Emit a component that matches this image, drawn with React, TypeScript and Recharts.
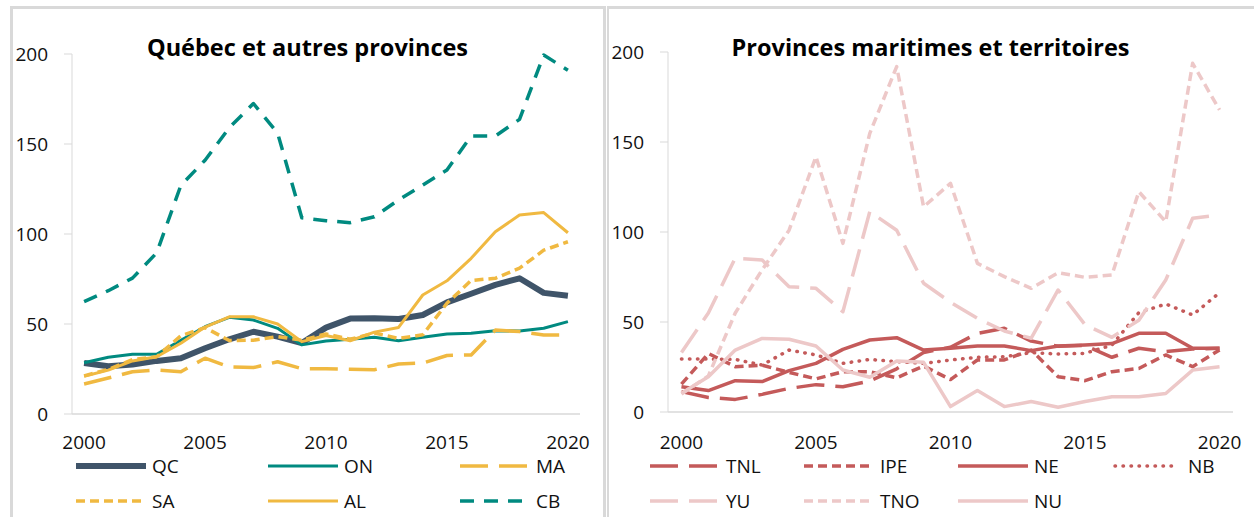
import React from 'react';
import { LineChart, Line, XAxis, YAxis } from 'recharts';

// ---------- DATA ----------
const years = [2000, 2001, 2002, 2003, 2004, 2005, 2006, 2007, 2008, 2009, 2010, 2011, 2012, 2013, 2014, 2015, 2016, 2017, 2018, 2019, 2020];
const xTicks = [2000, 2005, 2010, 2015, 2020];
const yTicks = [0, 50, 100, 150, 200];

// Québec et autres provinces
const QC = [28.3, 26.5, 27.5, 29.5, 31, 36.5, 41.5, 45.7, 43, 39.4, 48, 53, 53.2, 52.8, 55, 62, 66.8, 71.7, 75.4, 67.3, 65.7];
const ON = [28.5, 31.5, 33.2, 33.2, 41, 48.5, 53.7, 52.2, 47.6, 38.4, 40.5, 41.5, 42.6, 40.7, 42.6, 44.5, 44.8, 46.3, 46.1, 47.6, 51.3];
const MA = [16.7, 20, 23.5, 24.4, 23.5, 31, 26.2, 25.8, 29, 25.2, 25.2, 24.8, 24.6, 27.8, 28.3, 32.5, 32.8, 46.6, 45.8, 43.9, 43.9];
const SA = [21.2, 24.8, 30.2, 31.8, 43.5, 48, 40.8, 41, 43, 41, 44.5, 41.5, 45, 42, 44, 61.5, 74.2, 75.4, 81, 91, 95.7];
const AL = [21, 24.4, 29.5, 31.8, 39.3, 48.3, 54, 54, 50, 40.2, 43.6, 40.7, 45.5, 48.1, 66.1, 74, 86.5, 101.2, 110.6, 111.9, 100.7];
const CB = [62.4, 68.5, 75.5, 89.5, 127, 141, 159, 172.5, 156, 109, 107.4, 106.3, 109.6, 118.9, 127.2, 135.6, 154.4, 154.4, 163.7, 199.4, 191];

// Provinces maritimes et territoires
const TNL = [11.3, 8.1, 7, 9.8, 13.1, 15.2, 14, 17.2, 24, 33, 36, 43.7, 46.5, 39.4, 36.5, 37, 30.4, 35.4, 33.5, 35, 35.4];
const IPE = [15.5, 32.5, 25.2, 26, 22, 18.4, 22.4, 22.4, 19, 25.5, 18, 28.9, 28.9, 34.4, 19.6, 17.4, 22.4, 24.2, 31.7, 25.2, 34.5];
const NE = [14, 11.9, 17.4, 16.9, 23, 27, 34.8, 40, 41.3, 34.4, 35.4, 36.7, 36.7, 34.1, 36.7, 37.2, 38, 43.7, 43.7, 35.4, 35.4];
const NB = [29.4, 29.4, 29.2, 26.1, 34.4, 31.7, 27, 29.2, 28, 27, 28.9, 30.4, 30.7, 33, 32.2, 32.6, 37.2, 55.2, 60, 53.9, 66.3];
const YU = [33, 55, 85.5, 84.4, 69.6, 68.7, 55.7, 111.3, 101, 71.5, 61, 52, 45, 41, 67.8, 48.5, 41.5, 51, 73.3, 107.6, 109.4];
const TNO = [10, 20, 55, 79, 101, 141.8, 93.7, 154.8, 191.9, 114, 127, 82.6, 75.2, 68.7, 77.4, 74.8, 76.1, 122.4, 105.7, 193.7, 167.8];
const NU = [10.4, 19.6, 34.4, 40.9, 40.4, 36.7, 23.3, 19.3, 28.3, 27.6, 3, 11.9, 3, 5.8, 2.6, 5.8, 8.5, 8.5, 10.3, 23.3, 25.2];

const leftTitle = 'Québec et autres provinces';
const rightTitle = 'Provinces maritimes et territoires';

// ---------- STYLES ----------
const FONT = '"Open Sans", "Noto Sans", sans-serif';
const TEAL = '#008A80';
const SLATE = '#3F5469';
const GOLD = '#F0B941';
const RED = '#C45A5A';
const PINK = '#EDC8C8';
const GRID = '#D9D9D9';

const LONG = '28 11';
const DASH = '14 10';
const SHORT = '9 5';
const DOT = '0.5 7.5';

type S = { key: string; values: number[]; color: string; width: number; dash?: string; round?: boolean };

const leftSeries: S[] = [
  { key: 'QC', values: QC, color: SLATE, width: 6 },
  { key: 'ON', values: ON, color: TEAL, width: 3 },
  { key: 'MA', values: MA, color: GOLD, width: 3.5, dash: LONG },
  { key: 'SA', values: SA, color: GOLD, width: 3.5, dash: SHORT },
  { key: 'AL', values: AL, color: GOLD, width: 3 },
  { key: 'CB', values: CB, color: TEAL, width: 3.5, dash: DASH },
];

const rightSeries: S[] = [
  { key: 'TNL', values: TNL, color: RED, width: 3.5, dash: LONG },
  { key: 'IPE', values: IPE, color: RED, width: 3.5, dash: SHORT },
  { key: 'NE', values: NE, color: RED, width: 3.5 },
  { key: 'NB', values: NB, color: RED, width: 3.5, dash: DOT, round: true },
  { key: 'YU', values: YU, color: PINK, width: 3.5, dash: LONG },
  { key: 'TNO', values: TNO, color: PINK, width: 3.5, dash: SHORT },
  { key: 'NU', values: NU, color: PINK, width: 3.5 },
];

const buildData = (series: S[]) =>
  years.map((year, i) => {
    const row: Record<string, number> = { year };
    series.forEach((s) => (row[s.key] = s.values[i]));
    return row;
  });

const tickStyle = { fill: '#111', fontSize: 19, fontFamily: FONT };

function Panel(props: {
  series: S[];
  left: number;
  width: number;
  margin: { top: number; right: number; left: number; bottom: number };
  yWidth: number;
  xMargin: number;
}) {
  const { series, left, width, margin, yWidth, xMargin } = props;
  return (
    <div style={{ position: 'absolute', left, top: 0 }}>
      <LineChart width={width} height={517} data={buildData(series)} margin={margin}>
        <XAxis
          dataKey="year"
          type="number"
          domain={[1999.5, 2020.5]}
          ticks={xTicks}
          interval={0}
          tickLine={false}
          tickSize={0}
          tickMargin={xMargin}
          axisLine={{ stroke: GRID, strokeWidth: 1.5 }}
          tick={tickStyle}
          height={40}
        />
        <YAxis
          type="number"
          domain={[0, 200]}
          ticks={yTicks}
          interval={0}
          width={yWidth}
          tickSize={8}
          tickMargin={16}
          axisLine={{ stroke: GRID }}
          tickLine={{ stroke: GRID }}
          tick={tickStyle}
        />
        {series.map((s) => (
          <Line
            key={s.key}
            type="linear"
            dataKey={s.key}
            stroke={s.color}
            strokeWidth={s.width}
            strokeDasharray={s.dash}
            strokeLinecap={s.round ? 'round' : 'butt'}
            strokeLinejoin="round"
            dot={false}
            activeDot={false}
            isAnimationActive={false}
          />
        ))}
      </LineChart>
    </div>
  );
}

function LegendItem({ s, x, y }: { s: S; x: number; y: number }) {
  return (
    <div style={{ position: 'absolute', left: x, top: y - 10, height: 20, display: 'flex', alignItems: 'center' }}>
      <svg width={70} height={12} style={{ display: 'block' }}>
        <line
          x1={s.round ? 3 : 0}
          y1={6}
          x2={s.round ? 67 : 70}
          y2={6}
          stroke={s.color}
          strokeWidth={s.width}
          strokeDasharray={s.dash}
          strokeLinecap={s.round ? 'round' : s.dash ? 'butt' : 'round'}
        />
      </svg>
      <span style={{ marginLeft: 6, fontFamily: FONT, fontSize: 19, color: '#111', lineHeight: '20px' }}>{s.key}</span>
    </div>
  );
}

const leftCols = [76, 268, 460];
const rightCols = [650, 804, 958, 1112];
const legendRows = [466, 501];

const titleStyle: React.CSSProperties = {
  position: 'absolute',
  top: 32,
  textAlign: 'center',
  fontFamily: FONT,
  fontWeight: 700,
  fontSize: 23.5,
  lineHeight: '30px',
  color: '#000',
  whiteSpace: 'nowrap',
};

export default function App() {
  const border = (l: number, t: number, w: number, h: number) => (
    <div style={{ position: 'absolute', left: l, top: t, width: w, height: h, background: GRID }} />
  );
  return (
    <div style={{ position: 'absolute', left: 0, top: 0, width: 1254, height: 517, background: '#fff', overflow: 'hidden' }}>
      {border(10, 6, 595, 2.5)}
      {border(10, 6, 2.5, 520)}
      {border(603, 6, 2.5, 520)}
      {border(606.5, 6, 660, 2.5)}
      {border(606.5, 6, 2.5, 520)}
      <Panel
        series={leftSeries}
        left={0}
        width={605}
        margin={{ top: 54, right: 25, left: 12, bottom: 63 }}
        yWidth={60}
        xMargin={22}
      />
      <Panel
        series={rightSeries}
        left={607}
        width={647}
        margin={{ top: 52, right: 21, left: 6, bottom: 65 }}
        yWidth={55}
        xMargin={24}
      />
      <div style={{ ...titleStyle, left: 10, width: 595 }}>{leftTitle}</div>
      <div style={{ ...titleStyle, left: 607, width: 647 }}>{rightTitle}</div>
      {leftSeries.map((s, i) => (
        <LegendItem key={s.key} s={s} x={leftCols[i % 3]} y={legendRows[Math.floor(i / 3)]} />
      ))}
      {rightSeries.map((s, i) => (
        <LegendItem key={s.key} s={s} x={rightCols[i % 4]} y={legendRows[Math.floor(i / 4)]} />
      ))}
    </div>
  );
}
